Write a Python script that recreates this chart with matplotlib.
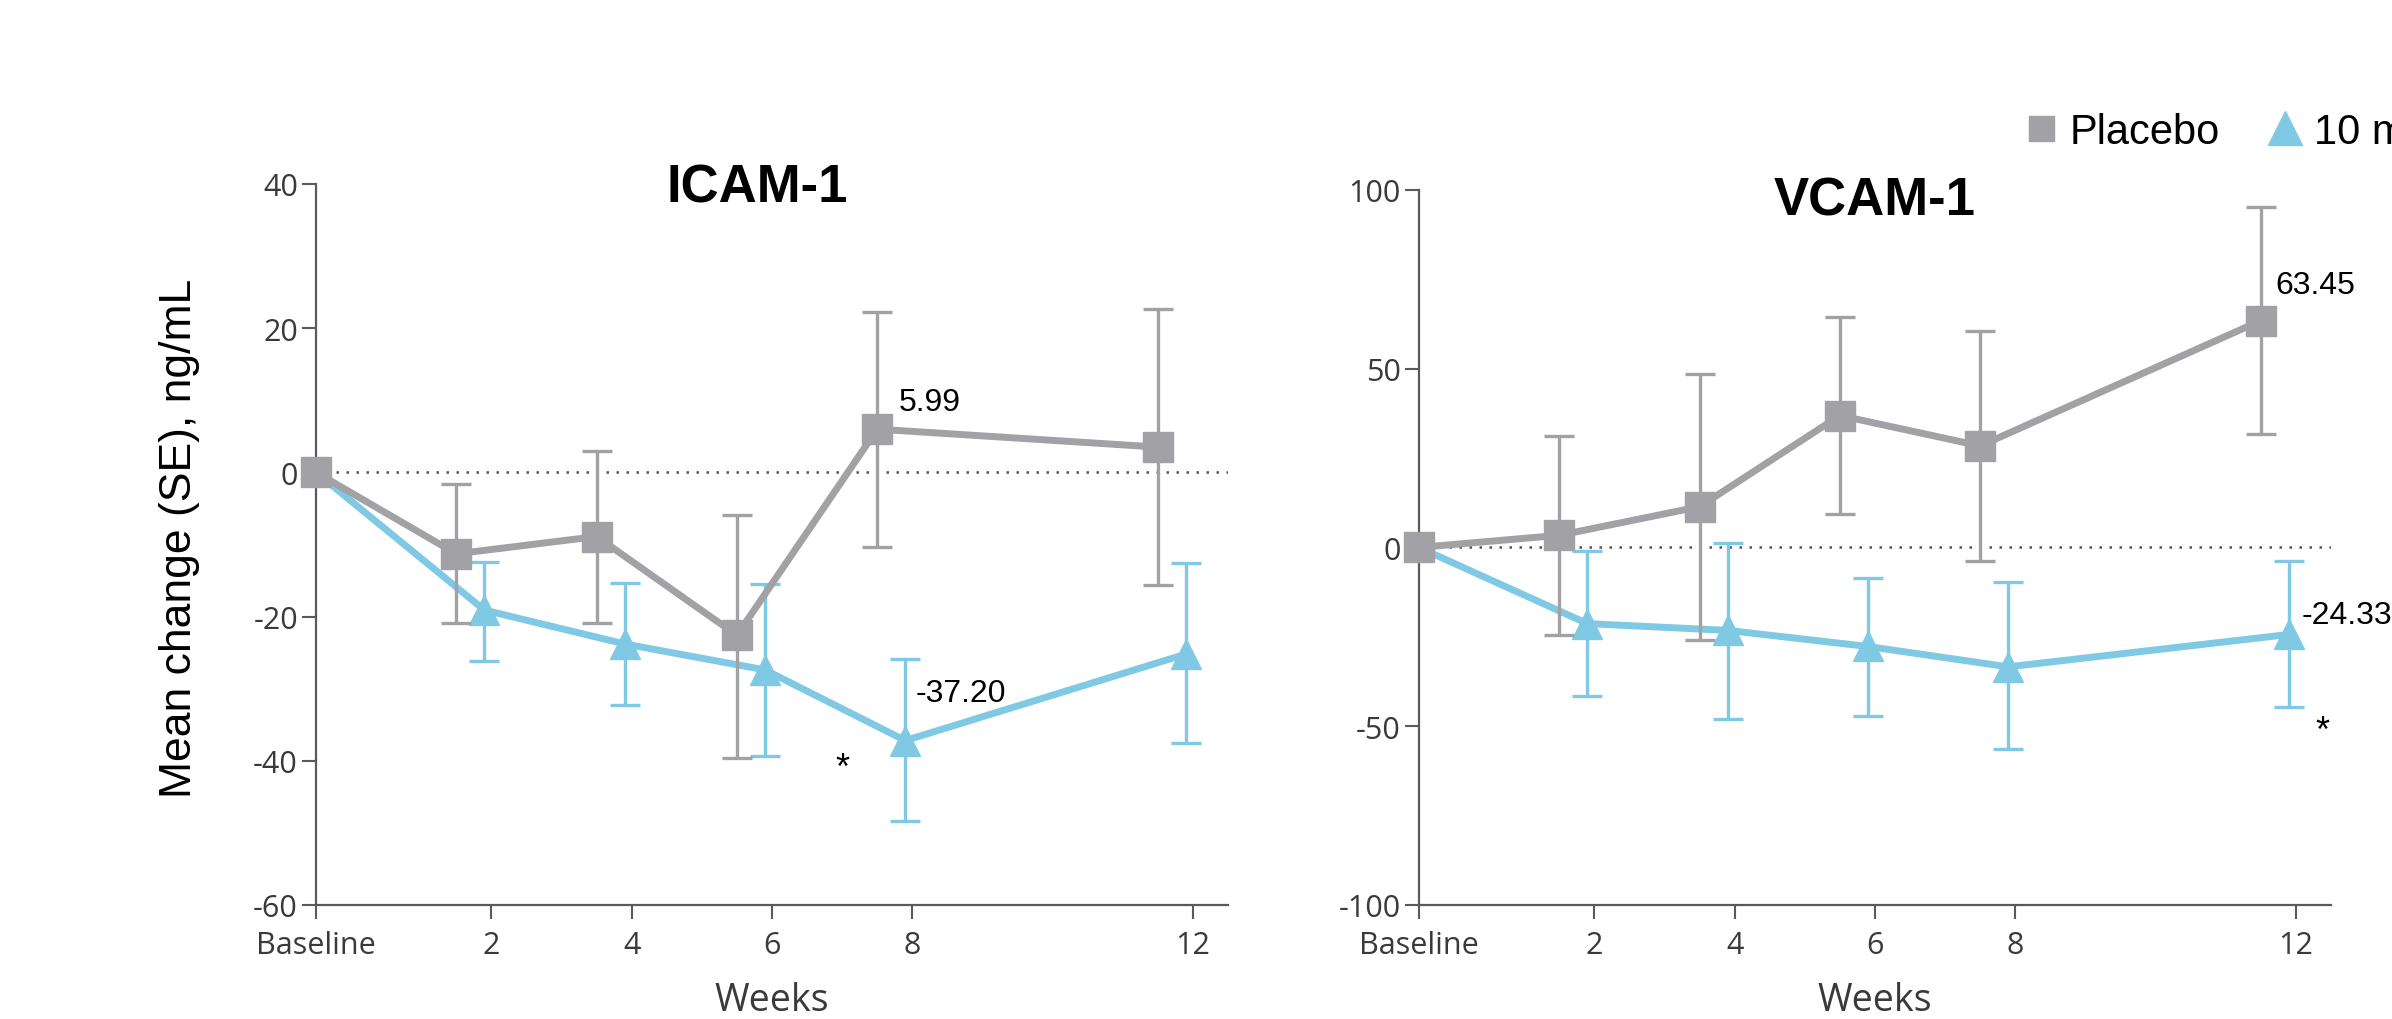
import matplotlib
matplotlib.use("Agg")
import matplotlib.pyplot as plt
from matplotlib.lines import Line2D
import numpy as np

# x positions (weeks); baseline drawn half a week left of 0
weeks = [-0.5, 2, 4, 6, 8, 12]
tick_labels = ["Baseline", "2", "4", "6", "8", "12"]

# ICAM-1 (ng/mL)
icam_pbo = [0, -11.3, -8.9, -22.6, 5.99, 3.5]
icam_pbo_lo = [0, -20.9, -20.9, -39.6, -10.4, -15.6]
icam_pbo_hi = [0, -1.6, 3.0, -5.9, 22.3, 22.7]
icam_drug = [0, -19.1, -23.8, -27.4, -37.20, -25.2]
icam_drug_lo = [0, -26.2, -32.3, -39.4, -48.4, -37.6]
icam_drug_hi = [0, -12.4, -15.3, -15.5, -25.9, -12.6]

# VCAM-1 (ng/mL)
vcam_pbo = [0, 3.4, 11.4, 36.9, 28.4, 63.45]
vcam_pbo_lo = [0, -24.4, -26.0, 9.4, -3.7, 31.7]
vcam_pbo_hi = [0, 31.1, 48.4, 64.5, 60.6, 95.2]
vcam_drug = [0, -21.3, -23.2, -27.7, -33.4, -24.33]
vcam_drug_lo = [0, -41.6, -48.0, -47.2, -56.5, -44.7]
vcam_drug_hi = [0, -1.1, 1.3, -8.5, -9.8, -3.7]

GRAY = "#a2a1a6"
BLUE = "#80c9e4"
AXC = "#5a5a5a"
TXT = "#3a3a3a"

fig = plt.figure(figsize=(23.92, 10.2), dpi=100)
ax1 = fig.add_axes([0.1321, 0.1118, 0.3813, 0.7069])
ax2 = fig.add_axes([0.5932, 0.1118, 0.3813, 0.7010])


def draw(ax, pbo, plo, phi, drug, dlo, dhi, yticks):
    x = np.array(weeks)
    xp = np.where(x < 0, x, x - 0.5)
    xd = np.where(x < 0, x, x - 0.1)
    ax.axhline(0, color="#555555", ls=(0, (1, 3)), lw=1.8, zorder=1)
    # placebo drawn above the 10 mg series
    for xs, m, lo, hi, col, mk, me, z in (
            (xd, drug, dlo, dhi, BLUE, "^", (1, 1), 3),
            (xp, pbo, plo, phi, GRAY, "s", None, 4)):
        m = np.array(m)
        yerr = [m - np.array(lo), np.array(hi) - m]
        eb = ax.errorbar(xs, m, yerr=yerr, errorevery=(1, 1), color=col,
                         marker=mk, ms=22, markevery=me, lw=5,
                         elinewidth=2.4, capsize=11, capthick=2.4, zorder=z)
        for a in eb.get_children():
            a.set_clip_on(False)
    ax.set_xlim(-0.5, 12.5)
    ax.set_ylim(yticks[0], yticks[-1])
    ax.set_yticks(yticks)
    ax.set_yticklabels([str(v) for v in yticks])
    ax.set_xticks(weeks)
    ax.set_xticklabels(tick_labels)
    for s in ("top", "right"):
        ax.spines[s].set_visible(False)
    for s in ("left", "bottom"):
        ax.spines[s].set_color(AXC)
        ax.spines[s].set_linewidth(1.6)
    ax.tick_params(axis="both", direction="out", length=10, width=1.5,
                   color=AXC, labelcolor=TXT, labelsize=22)
    ax.tick_params(axis="x", pad=8)
    ax.tick_params(axis="y", pad=3)
    for lab in ax.get_xticklabels() + ax.get_yticklabels():
        lab.set_family("Open Sans")
    ax.set_xlabel("Weeks", fontsize=27, family="Open Sans", color=TXT,
                  labelpad=15)
    ax.patch.set_alpha(0)


draw(ax1, icam_pbo, icam_pbo_lo, icam_pbo_hi,
     icam_drug, icam_drug_lo, icam_drug_hi, [-60, -40, -20, 0, 20, 40])
draw(ax2, vcam_pbo, vcam_pbo_lo, vcam_pbo_hi,
     vcam_drug, vcam_drug_lo, vcam_drug_hi, [-100, -50, 0, 50, 100])

tfont = dict(family="Liberation Sans", fontsize=38, fontweight="bold",
             ha="center", va="baseline")
fig.text(757 / 2392, 1 - 203 / 1020, "ICAM-1", **tfont)
fig.text(1875 / 2392, 1 - 216 / 1020, "VCAM-1", **tfont)

afont = dict(family="Liberation Sans", fontsize=23, va="center", ha="left")
ax1.text(7.8, 9.8, "5.99", **afont)
ax1.text(8.05, -30.6, "-37.20", **afont)
ax1.text(7.0, -41.0, "*", fontsize=26, family="Liberation Sans",
         ha="center", va="center")
ax2.text(11.7, 73.4, "63.45", **afont)
ax2.text(12.08, -18.8, "-24.33", **afont)
ax2.text(12.38, -51.6, "*", fontsize=26, family="Liberation Sans",
         ha="center", va="center")

fig.text(180 / 2392, 1 - 538 / 1020, "Mean change (SE), ng/mL", rotation=90,
         ha="center", va="center", fontsize=32, family="Liberation Sans")

handles = [Line2D([], [], ls="none", marker="s", ms=18, color=GRAY),
           Line2D([], [], ls="none", marker="^", ms=24, color=BLUE)]
fig.legend(handles, ["Placebo", "10 mg"], loc="center left",
           bbox_to_anchor=(0.8445, 1 - 133 / 1020), ncol=2, frameon=False,
           prop={"family": "Liberation Sans", "size": 30},
           handlelength=1.0, handletextpad=0.2, columnspacing=1.05,
           borderpad=0, borderaxespad=0)

fig.savefig("out.png", dpi=100)
